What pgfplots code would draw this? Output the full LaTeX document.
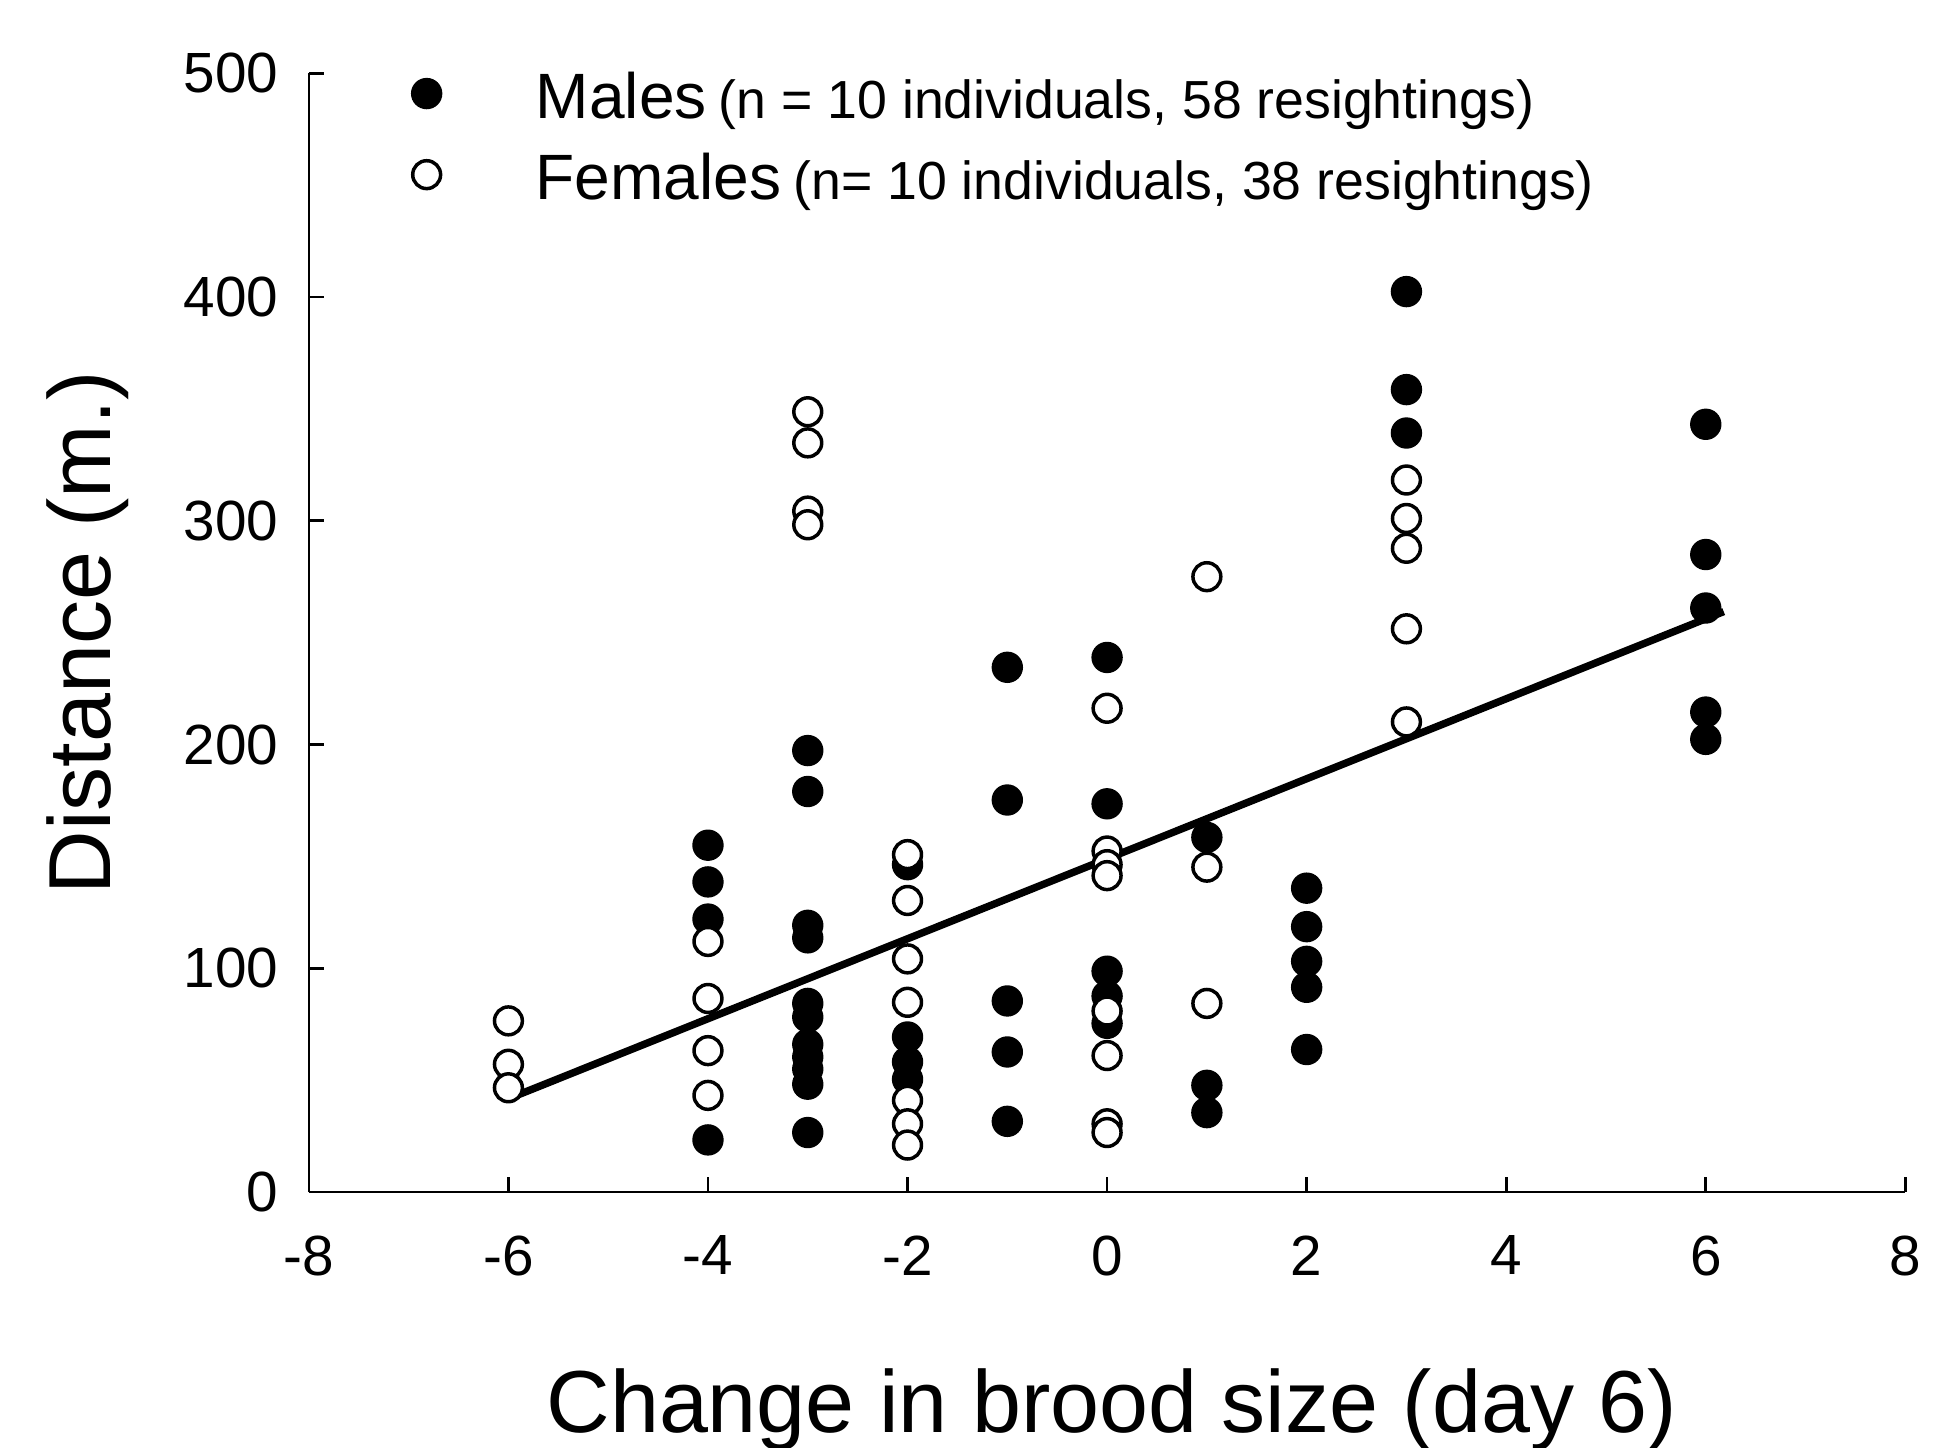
\documentclass[border=0pt]{standalone}
\usepackage{fontspec}
\setmainfont{Liberation Sans}
\usepackage{pgfplots}
\pgfplotsset{compat=1.18}

\begin{document}
\begin{tikzpicture}
\begin{axis}[
    at={(0,0)}, anchor=south west,
    scale only axis,
    width=12.87cm, height=9.02cm,
    xmin=-8, xmax=8, ymin=0, ymax=500,
    axis x line=bottom, axis y line=left,
    axis line style={-, line width=0.6pt},
    xtick={-8,-6,...,8}, ytick={0,100,...,500},
    tick align=inside,
    major tick length=1.2mm,
    every tick/.style={black, line width=0.6pt},
    /pgf/number format/assume math mode=true,
    ticklabel style={font=\fontsize{13}{15}\selectfont},
    xticklabel style={yshift=-6.5pt},
    yticklabel style={xshift=-3.5pt},
    xlabel={Change in brood size (day 6)},
    ylabel={Distance (m.)},
    label style={font=\fontsize{20.2}{24}\selectfont},
    xlabel style={at={(axis description cs:0.503,-0.215)}, anchor=base},
    ylabel style={at={(axis description cs:-0.1245,0.5)}, anchor=base},
    legend style={at={(axis description cs:0.0645,1.004)}, anchor=north west,
        draw=none, fill=none, inner sep=0pt, outer sep=0pt,
        column sep=7.6mm, row sep=7.2pt,
        nodes={inner sep=0pt, text height=11.4pt, text depth=0pt}},
    legend cell align=left,
    legend image code/.code={\draw[#1] plot coordinates {(0cm,0cm)};},
    clip=false,
]

% males
\addplot[only marks, mark=*, mark size=3.4pt, mark options={fill=black, draw=black}]
    coordinates {
        (-4,155) (-4,138.6) (-4,122) (-4,23.3)
        (-3,197.3) (-3,179) (-3,119.2) (-3,113.6) (-3,84.3) (-3,78.2)
        (-3,66) (-3,60.4) (-3,55) (-3,48.2) (-3,26.6)
        (-2,146.3) (-2,69.3) (-2,58.2) (-2,50.4)
        (-1,234.5) (-1,175.2) (-1,85.4) (-1,62.6) (-1,31.6)
        (0,238.9) (0,173.5) (0,98.7) (0,87.6) (0,75.4)
        (1,158.5) (1,47.7) (1,35.5)
        (2,135.8) (2,118.6) (2,103.1) (2,91.5) (2,63.7)
        (3,402.4) (3,358.6) (3,339.2)
        (6,343.1) (6,284.9) (6,261) (6,214.5) (6,202.3)
    };
\addlegendentry{{\fontsize{14.7}{17}\selectfont Males} {\fontsize{12.3}{14}\selectfont (n = 10 individuals, 58 resightings)}}

% females
\addplot[only marks, mark=*, mark size=3.2pt, mark options={fill=white, draw=black, line width=0.8pt}]
    coordinates {
        (-6,76.5) (-6,57.1) (-6,46.6)
        (-4,112) (-4,86.5) (-4,63.2) (-4,43.2)
        (-3,348.7) (-3,334.8) (-3,304.3) (-3,298.2)
        (-2,150.8) (-2,130.3) (-2,104.2) (-2,84.8) (-2,41) (-2,30.5) (-2,21)
        (0,216.2) (0,152.4) (0,146.3) (0,141.4) (0,80.9) (0,61) (0,30.5) (0,26.6)
        (1,275) (1,145.2) (1,84.3)
        (3,318.2) (3,301) (3,287.7) (3,251.7) (3,210.1)
    };
\addlegendentry{{\fontsize{14.7}{17}\selectfont Females} {\fontsize{12.3}{14}\selectfont (n= 10 individuals, 38 resightings)}}

% regression line
\addplot[black, line width=1.7pt, forget plot] coordinates {(-5.95,42.6) (6.18,259.4)};

\end{axis}
\pgfresetboundingbox
\useasboundingbox (-2.49cm,-2.06cm) rectangle (13.19cm,9.61cm);
\end{tikzpicture}
\end{document}
